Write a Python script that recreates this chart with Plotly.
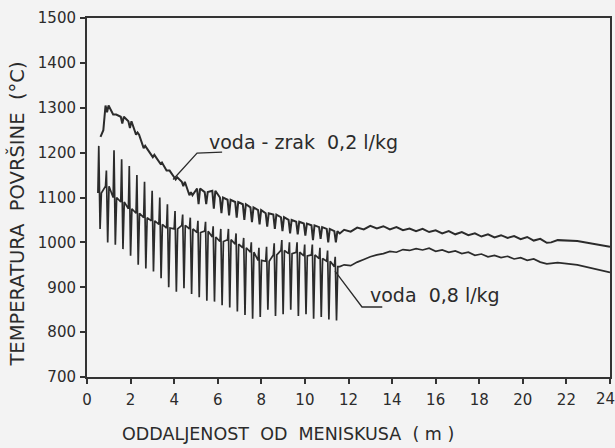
import plotly.graph_objects as go

# Surface temperature along the strand vs. distance from the meniscus
# Roll-contact positions (m) where the spray cooling causes temperature swings
teeth_x = [0.5, 0.85, 1.2, 1.55, 1.9, 2.25, 2.6, 2.95, 3.3, 3.65, 4.0, 4.35,
           4.7, 5.05, 5.4, 5.75, 6.1, 6.45, 6.8, 7.15, 7.5, 7.85, 8.2, 8.55,
           8.9, 9.25, 9.6, 9.95, 10.3, 10.65, 11.0, 11.35]

# "voda 0,8 l/kg" (water only): running level, swing peaks and swing troughs (°C)
water_mean = [1110, 1125, 1100, 1090, 1075, 1065, 1055, 1048, 1040, 1032, 1030, 1038,
              1030, 1022, 1025, 1012, 1002, 1006, 996, 988, 978, 960, 958, 972,
              982, 975, 978, 970, 972, 964, 958, 946]
water_peak = [1215, 1160, 1205, 1185, 1170, 1150, 1135, 1115, 1100, 1085, 1070, 1062,
              1055, 1048, 1046, 1036, 1030, 1030, 1020, 1010, 1000, 988, 990, 998,
              1005, 1000, 1000, 995, 995, 988, 982, 968]
water_trough = [1030, 1000, 995, 985, 970, 950, 942, 935, 920, 900, 890, 898,
                885, 878, 870, 868, 860, 855, 846, 838, 830, 834, 850, 836,
                840, 850, 836, 840, 830, 834, 828, 826]

# "voda - zrak 0,2 l/kg" (air-mist): start of record, level and dips at each roll
mist_start_x = [0.62, 0.75]
mist_start_y = [1235, 1250]
mist_level = [1305, 1285, 1280, 1270, 1240, 1210, 1195, 1178, 1160, 1145, 1135, 1105,
              1120, 1112, 1115, 1100, 1095, 1090, 1085, 1078, 1072, 1065, 1062, 1056,
              1050, 1046, 1042, 1038, 1034, 1030, 1025, 1018]
mist_dip = [1290, 1285, 1265, 1255, 1245, 1215, 1190, 1175, 1160, 1140, 1125, 1112,
            1085, 1085, 1075, 1065, 1060, 1055, 1050, 1045, 1040, 1035, 1030, 1025,
            1020, 1018, 1015, 1005, 1008, 1000, 1000, 995]

# Radiation zone beyond the sprays (both records)
tail_x = [11.6, 11.8, 12.1, 12.4, 12.7, 13.0, 13.3, 13.6, 13.9, 14.2, 14.5, 14.8,
          15.1, 15.4, 15.7, 16.0, 16.3, 16.6, 16.9, 17.2, 17.5, 17.8, 18.1, 18.4,
          18.7, 19.0, 19.3, 19.6, 19.9, 20.2, 20.5, 20.8, 21.1, 21.3, 21.6, 22.5, 24.0]
mist_tail = [1020, 1028, 1024, 1033, 1029, 1037, 1031, 1036, 1029, 1034, 1027, 1031,
             1025, 1030, 1023, 1027, 1020, 1025, 1018, 1023, 1016, 1020, 1013, 1018,
             1011, 1016, 1010, 1014, 1007, 1012, 1004, 1008, 999, 1000, 1005, 1003, 990]
water_tail = [946, 950, 948, 956, 962, 968, 972, 975, 980, 978, 984, 982,
              986, 983, 987, 980, 983, 978, 981, 975, 978, 971, 974, 968,
              971, 966, 969, 963, 966, 960, 963, 956, 952, 953, 955, 950, 933]

x_ticks = list(range(0, 25, 2))
y_ticks = list(range(700, 1501, 100))

INK = "#2b2b2b"
PAPER = "#f3f3f3"

# assemble the water-only trace: level -> peak -> trough -> level at each roll
wx, wy = [], []
for x0, m, p, t in zip(teeth_x, water_mean, water_peak, water_trough):
    wx += [x0, x0 + 0.04, x0 + 0.10, x0 + 0.16]
    wy += [m, p, t, m]
wx += tail_x
wy += water_tail

# assemble the air-mist trace: level -> dip -> level at each roll
mx, my = list(mist_start_x), list(mist_start_y)
for x0, lv, dp in zip(teeth_x[1:], mist_level, mist_dip):
    mx += [x0, x0 + 0.07, x0 + 0.14]
    my += [lv, dp, lv]
mx += tail_x
my += mist_tail

fig = go.Figure()
fig.add_trace(go.Scatter(x=wx, y=wy, mode="lines", name="voda 0,8 l/kg",
                         line=dict(color=INK, width=1.7)))
fig.add_trace(go.Scatter(x=mx, y=my, mode="lines", name="voda - zrak 0,2 l/kg",
                         line=dict(color=INK, width=2)))

font_family = "DejaVu Sans"
tick_font = dict(family=font_family, size=15, color=INK)

# series labels with leader lines
fig.add_annotation(x=5.5, y=1224, xref="x", yref="y", text="voda - zrak  0,2 l/kg",
                   showarrow=False, xanchor="left", yanchor="middle",
                   font=dict(family=font_family, size=19, color=INK))
fig.add_annotation(x=12.9, y=883, xref="x", yref="y", text="voda  0,8 l/kg",
                   showarrow=False, xanchor="left", yanchor="middle",
                   font=dict(family=font_family, size=19, color=INK))
fig.add_shape(type="path", xref="x", yref="y",
              path="M 6.2 1201 L 5.05 1199 L 3.95 1140",
              line=dict(color=INK, width=1.3))
fig.add_shape(type="path", xref="x", yref="y",
              path="M 13.55 856 L 12.62 856 L 11.38 936",
              line=dict(color=INK, width=1.3))

# axis titles
fig.add_annotation(x=-0.134, y=0.455, xref="paper", yref="paper",
                   text="TEMPERATURA  POVRŠINE  (°C)", textangle=-90,
                   showarrow=False, xanchor="center", yanchor="middle",
                   font=dict(family=font_family, size=19.5, color=INK))
fig.add_annotation(x=0.385, y=-0.16, xref="paper", yref="paper",
                   text="ODDALJENOST  OD  MENISKUSA  ( m )",
                   showarrow=False, xanchor="center", yanchor="middle",
                   font=dict(family=font_family, size=17.5, color=INK))

# the last x label sits at the page edge; keep it right-aligned inside the page
x_ticktext = [str(v) for v in x_ticks[:-1]] + [""]
fig.add_annotation(x=x_ticks[-1], y=0, xref="x", yref="paper", text=str(x_ticks[-1]),
                   showarrow=False, xanchor="right", yanchor="top",
                   xshift=6, yshift=-12, borderpad=0,
                   font=tick_font)

axis_common = dict(showgrid=False, zeroline=False, showline=True, mirror=True,
                   linecolor="#333333", linewidth=2, ticks="outside", ticklen=5,
                   tickwidth=1.5, tickcolor="#333333", automargin=False,
                   tickfont=tick_font)

fig.update_xaxes(range=[0, 24], tickvals=x_ticks, ticktext=x_ticktext,
                 ticklabelstandoff=3, **axis_common)
fig.update_yaxes(range=[700, 1500], tickvals=y_ticks, ticklabelstandoff=1, **axis_common)

fig.update_layout(width=615, height=448, showlegend=False,
                  margin=dict(l=87, r=5, t=18, b=71),
                  paper_bgcolor=PAPER, plot_bgcolor=PAPER)

fig.write_html("out.html")
